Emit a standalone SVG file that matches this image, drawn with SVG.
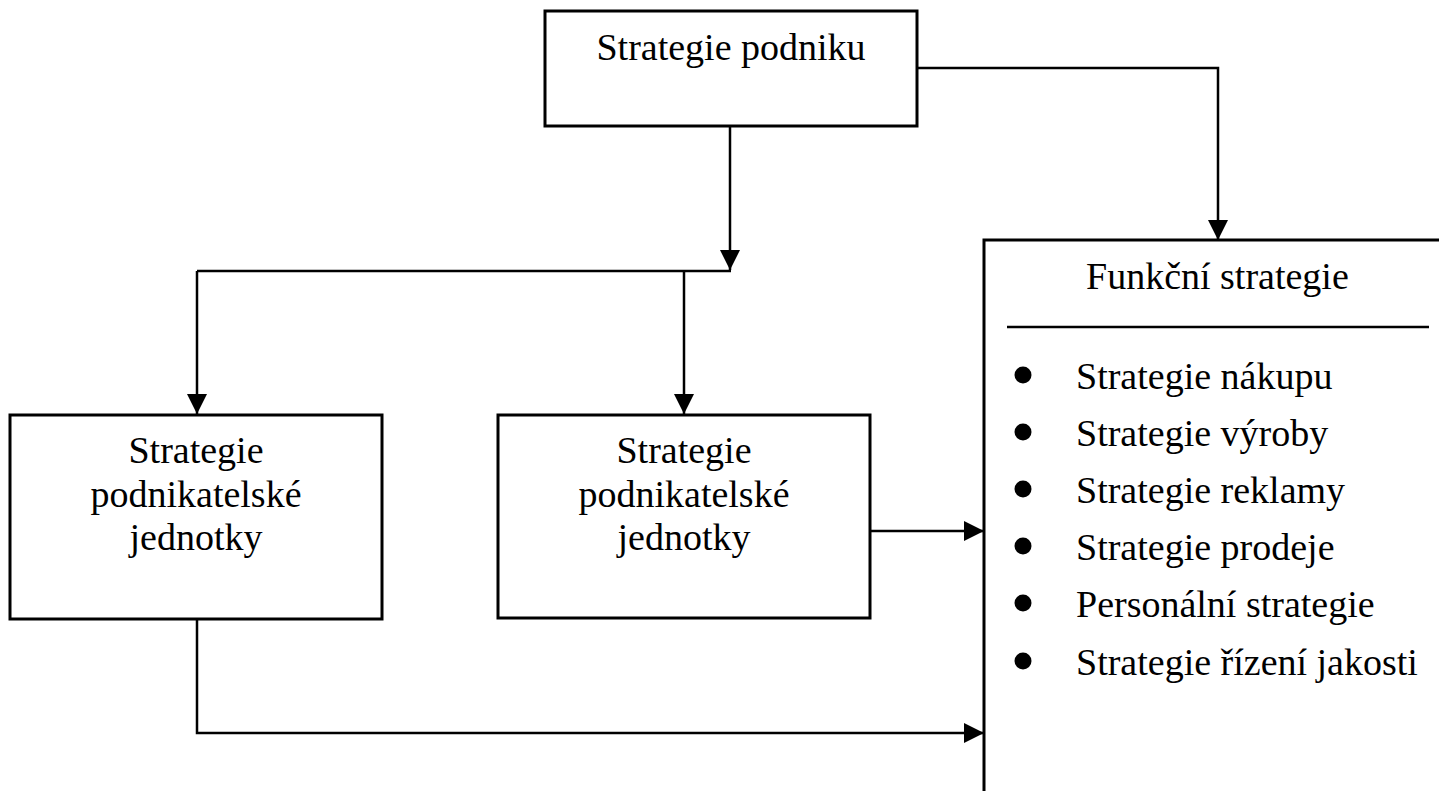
<svg xmlns="http://www.w3.org/2000/svg" width="1439" height="791" viewBox="0 0 1439 791">
<style>
.box{fill:#fff;stroke:#000;stroke-width:3}
.con{fill:none;stroke:#000;stroke-width:2.5}
.t{font-family:"Liberation Serif","Times New Roman",serif;font-size:38px;fill:#000}
.c{text-anchor:middle}
</style>
<defs>
<marker id="ah" markerUnits="userSpaceOnUse" markerWidth="20" markerHeight="20" refX="20" refY="10" orient="auto">
<path d="M0,0 L20,10 L0,20 z" fill="#000"/>
</marker>
</defs>
<rect width="1439" height="791" fill="#fff"/>
<g id="connectors">
<path class="con" d="M730,126 V270" marker-end="url(#ah)"/>
<path class="con" d="M197,271 H731"/>
<path class="con" d="M197,271 V414" marker-end="url(#ah)"/>
<path class="con" d="M684,271 V414" marker-end="url(#ah)"/>
<path class="con" d="M917,68 H1218 V240" marker-end="url(#ah)"/>
<path class="con" d="M870,531 H984" marker-end="url(#ah)"/>
<path class="con" d="M197,619 V733 H984" marker-end="url(#ah)"/>
</g>
<g id="strategie-podniku">
<rect class="box" x="545" y="11" width="372" height="115"/>
<text class="t c" x="731" y="60">Strategie podniku</text>
</g>
<g id="spj-1">
<rect class="box" x="10" y="415" width="372" height="204"/>
<text class="t c" x="196" y="463">Strategie</text>
<text class="t c" x="196" y="507">podnikatelské</text>
<text class="t c" x="196" y="550">jednotky</text>
</g>
<g id="spj-2">
<rect class="box" x="498" y="415" width="372" height="203"/>
<text class="t c" x="684" y="463">Strategie</text>
<text class="t c" x="684" y="507">podnikatelské</text>
<text class="t c" x="684" y="550">jednotky</text>
</g>
<g id="funkcni-strategie">
<rect class="box" x="984" y="240" width="480" height="580"/>
<text class="t" x="1086" y="289">Funkční strategie</text>
<line x1="1007" y1="327" x2="1429" y2="327" stroke="#000" stroke-width="2.5"/>
<g fill="#000">
<circle cx="1023" cy="375" r="8.5"/>
<circle cx="1023" cy="432" r="8.5"/>
<circle cx="1023" cy="489" r="8.5"/>
<circle cx="1023" cy="546" r="8.5"/>
<circle cx="1023" cy="603" r="8.5"/>
<circle cx="1023" cy="661" r="8.5"/>
</g>
<text class="t" x="1076" y="389">Strategie nákupu</text>
<text class="t" x="1076" y="446">Strategie výroby</text>
<text class="t" x="1076" y="503">Strategie reklamy</text>
<text class="t" x="1076" y="560">Strategie prodeje</text>
<text class="t" x="1076" y="617">Personální strategie</text>
<text class="t" x="1076" y="675">Strategie řízení jakosti</text>
</g>
</svg>
